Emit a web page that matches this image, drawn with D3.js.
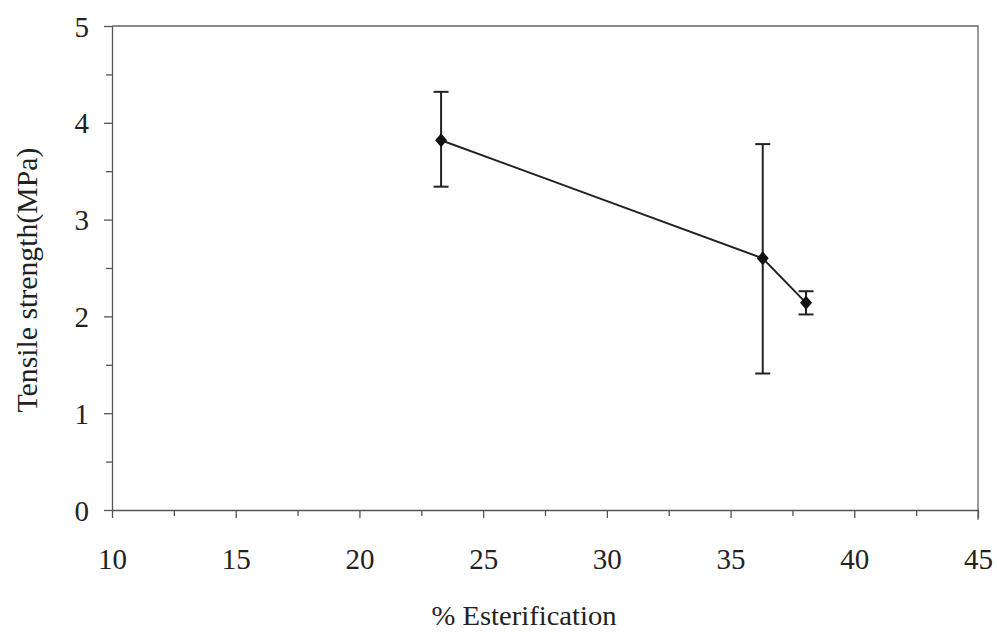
<!DOCTYPE html>
<meta charset="utf-8">
<style>
  body { margin: 0; background: #fff; }
  .axis path, .axis line { stroke: #555; stroke-width: 1.3px; }
</style>
<body></body>
<script src="https://d3js.org/d3.v7.min.js"></script>
<script>
  // % esterification vs tensile strength, with error bars
  var esterification = [23.3, 36.3, 38.05];
  var strength = [3.82, 2.60, 2.14];
  var errTop = [4.32, 3.78, 2.26];
  var errBottom = [3.34, 1.41, 2.02];
  var xTicks = [10, 15, 20, 25, 30, 35, 40, 45];
  var yTicks = [0, 1, 2, 3, 4, 5];

  var serif = "Liberation Serif";

  var margin = {top: 26, right: 19, bottom: 124, left: 112},
    width = 997 - margin.left - margin.right,
    height = 634 - margin.top - margin.bottom;

  var x = d3.scaleLinear().domain([10, 45]).range([0, width]);
  var y = d3.scaleLinear().domain([0, 5]).range([height, 0]);

  var svg = d3.select("body").append("svg")
    .attr("width", 997)
    .attr("height", 634)
    .attr("font-family", serif);

  var g = svg.append("g")
    .attr("transform", "translate(" + margin.left + "," + margin.top + ")");

  // frame (top and right)
  g.append("path")
    .attr("d", "M0,0H" + width + "V" + (height + 10))
    .attr("fill", "none")
    .attr("stroke", "#666")
    .attr("stroke-width", 1.3);

  // minor ticks
  var xMinor = d3.axisBottom(x).tickValues(d3.range(12.5, 45, 5)).tickSize(6).tickFormat("");
  var yMinor = d3.axisLeft(y).tickValues(d3.range(0.5, 5, 1)).tickSize(6).tickFormat("");

  g.append("g").attr("class", "axis")
    .attr("transform", "translate(0," + height + ")")
    .call(xMinor).select(".domain").remove();
  g.append("g").attr("class", "axis")
    .call(yMinor).select(".domain").remove();

  var xAxis = d3.axisBottom(x).tickValues(xTicks).tickFormat(d3.format("d"))
    .tickSizeInner(8).tickSizeOuter(0).tickPadding(30);
  var yAxis = d3.axisLeft(y).tickValues(yTicks).tickFormat(d3.format("d"))
    .tickSizeInner(8).tickSizeOuter(0).tickPadding(15);

  g.append("g").attr("class", "axis")
    .attr("transform", "translate(0," + height + ")")
    .call(xAxis)
    .attr("font-family", serif).attr("font-size", 29)
    .selectAll("text").attr("fill", "#222");
  g.append("g").attr("class", "axis")
    .call(yAxis)
    .attr("font-family", serif).attr("font-size", 29)
    .selectAll("text").attr("fill", "#222").attr("dy", "0.35em");

  var data = esterification.map(function(d, i) {
    return {x: d, y: strength[i], hi: errTop[i], lo: errBottom[i]};
  });

  // error bars
  var eb = g.append("g").attr("stroke", "#222").attr("stroke-width", 2);
  data.forEach(function(d) {
    eb.append("line").attr("x1", x(d.x)).attr("x2", x(d.x)).attr("y1", y(d.hi)).attr("y2", y(d.lo));
    eb.append("line").attr("x1", x(d.x) - 7.5).attr("x2", x(d.x) + 7.5).attr("y1", y(d.hi)).attr("y2", y(d.hi));
    eb.append("line").attr("x1", x(d.x) - 7.5).attr("x2", x(d.x) + 7.5).attr("y1", y(d.lo)).attr("y2", y(d.lo));
  });

  // line
  g.append("path")
    .datum(data)
    .attr("fill", "none")
    .attr("stroke", "#222")
    .attr("stroke-width", 2)
    .attr("d", d3.line().x(function(d) { return x(d.x); }).y(function(d) { return y(d.y); }));

  // diamond markers
  g.selectAll(".pt")
    .data(data)
    .enter().append("path")
    .attr("class", "pt")
    .attr("transform", function(d) { return "translate(" + x(d.x) + "," + y(d.y) + ")"; })
    .attr("d", "M0,-7L6,0L0,7L-6,0Z")
    .attr("fill", "#111");

  // axis titles
  svg.append("text")
    .attr("x", 524)
    .attr("y", 625)
    .attr("text-anchor", "middle")
    .attr("font-size", 28)
    .attr("textLength", 185)
    .attr("lengthAdjust", "spacingAndGlyphs")
    .attr("fill", "#222")
    .text("% Esterification");

  svg.append("text")
    .attr("transform", "translate(37,280) rotate(-90)")
    .attr("text-anchor", "middle")
    .attr("font-size", 30)
    .attr("textLength", 265)
    .attr("lengthAdjust", "spacingAndGlyphs")
    .attr("fill", "#222")
    .text("Tensile strength(MPa)");
</script>
